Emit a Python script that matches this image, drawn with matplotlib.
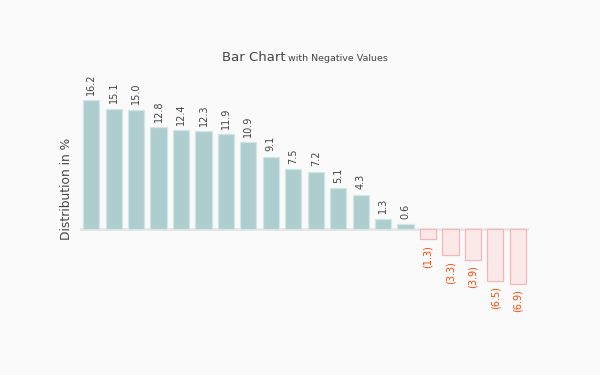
import matplotlib
matplotlib.use("Agg")
import matplotlib.pyplot as plt

values = [16.2, 15.1, 15.0, 12.8, 12.4, 12.3, 11.9, 10.9, 9.1, 7.5, 7.2, 5.1, 4.3, 1.3, 0.6,
          -1.3, -3.3, -3.9, -6.5, -6.9]

fig = plt.figure(figsize=(6, 3.75), dpi=100, facecolor="#fafafa")
ax = fig.add_axes([80 / 600, 50.5 / 375, 449 / 600, 246.7 / 375], facecolor="#fafafa")

x = range(len(values))
face = ["#aecdcf" if v >= 0 else "#fbe9e9" for v in values]
edge = ["#d3e6e7" if v >= 0 else "#f4b6b6" for v in values]
ax.bar(x, values, width=0.72, color=face, edgecolor=edge, linewidth=0.9, zorder=2)
ax.axhline(0, color="#e6e6e6", lw=2, zorder=1)

# value labels, rotated
for i, v in enumerate(values):
    if v >= 0:
        ax.annotate(f"{v:.1f}", (i, v), xytext=(0, 4), textcoords="offset points",
                    rotation=90, ha="center", va="bottom", fontsize=7, color="#444444")
    else:
        ax.annotate(f"({abs(v):.1f})", (i, v), xytext=(0, -4), textcoords="offset points",
                    rotation=90, ha="center", va="top", fontsize=7, color="#ff4500")

ax.set_xlim(-0.5, len(values) - 0.5)
ax.set_ylim(-12, 19)
ax.set_xticks([]); ax.set_yticks([])
for s in ax.spines.values():
    s.set_visible(False)

fig.text(222 / 600, 1 - 61 / 375, "Bar Chart", fontsize=9.5, color="#444444", va="baseline")
fig.text(288 / 600, 1 - 61 / 375, "with Negative Values", fontsize=6.8, color="#444444", va="baseline")
fig.text(67 / 600, 1 - 189 / 375, "Distribution in %", fontsize=8.8, color="#444444",
         rotation=90, ha="center", va="center")

fig.savefig("out.png", dpi=100, facecolor=fig.get_facecolor())
